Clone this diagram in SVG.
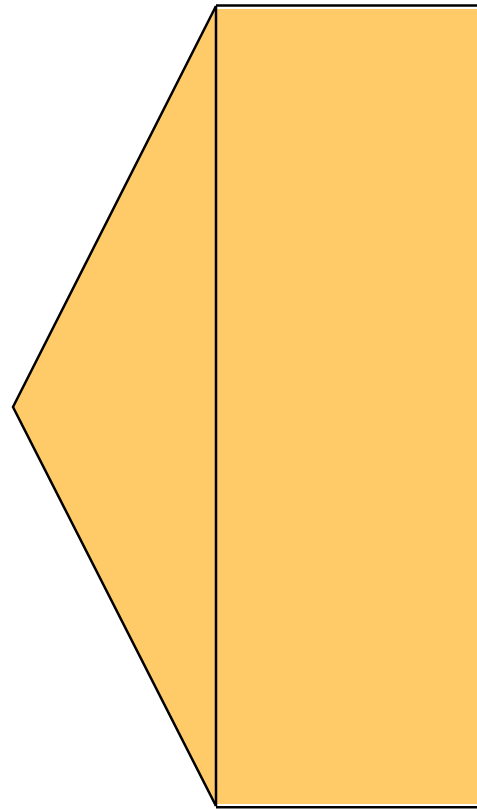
<svg xmlns="http://www.w3.org/2000/svg" width="477" height="810" viewBox="0 0 477 810">
<style>
.fill{fill:#FFCB69}
.edge{stroke:#000;stroke-width:2.5;fill:none;stroke-linejoin:miter}
</style>
<g id="shape">
<polygon class="fill" points="216,6 13,407 216,806"/>
<rect class="fill" x="216" y="9" width="261" height="795"/>
<polyline class="edge" points="216,6 13,407 216,806"/>
<line class="edge" x1="216" y1="6" x2="216" y2="806"/>
<line class="edge" x1="216" y1="5.5" x2="477" y2="5.5"/>
<line class="edge" x1="216" y1="807.3" x2="477" y2="807.3"/>
</g>
</svg>
